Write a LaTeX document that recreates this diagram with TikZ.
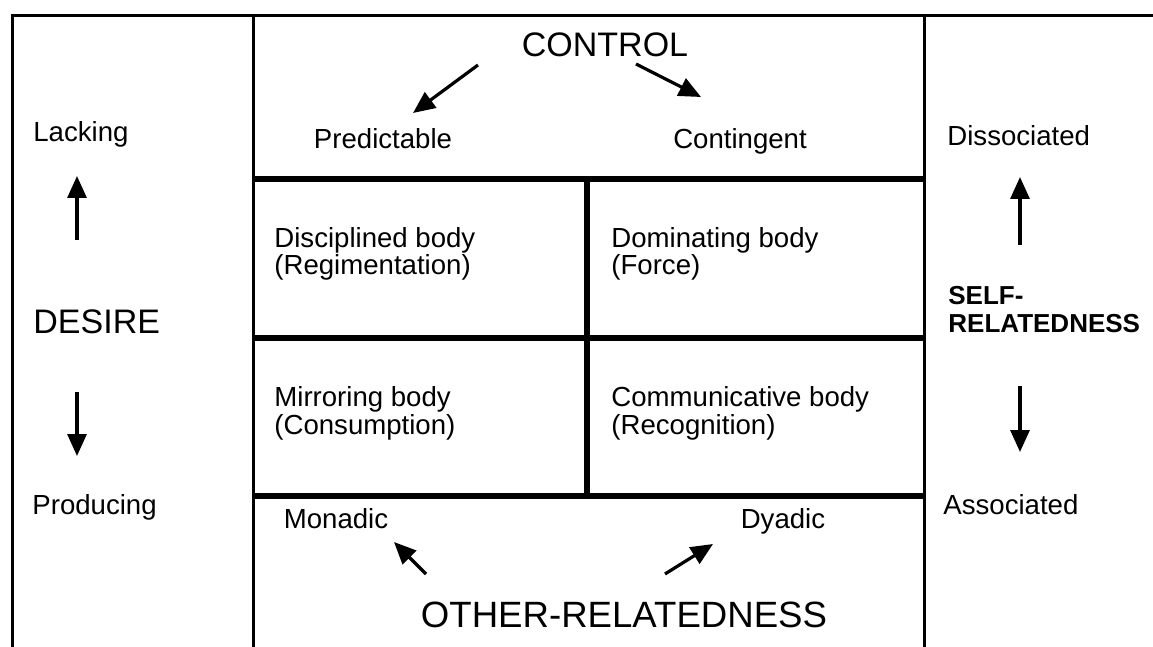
\documentclass[tikz,border=0pt]{standalone}
\usepackage{fontspec}
\setmainfont{Liberation Sans}
\usetikzlibrary{arrows.meta}

\begin{document}
\begin{tikzpicture}[x=0.5pt,y=-0.5pt,
  frame/.style={line width=1.5pt},
  gridline/.style={line width=2.6pt},
  lbl/.style={font=\fontsize{13.8}{13.5}\selectfont, inner sep=0pt, anchor=base},
  big/.style={font=\fontsize{17}{20}\selectfont, inner sep=0pt, anchor=base},
  side/.style={font=\bfseries\fontsize{13}{14}\selectfont, inner sep=0pt, align=left, anchor=base west},
  cell/.style={lbl, align=left, anchor=base west},
  arr/.style={line width=1.6pt, -{Triangle[length=11pt,width=9.5pt]}}]
\useasboundingbox (0,0) rectangle (1153,647);

% outer frame and column dividers
\draw[frame] (12,647) -- (12,16) -- (1153,16);
\draw[frame] (253,16) -- (253,647);
\draw[frame] (924,16) -- (924,647);

% central two-by-two grid
\draw[gridline] (253,179) -- (924,179);
\draw[gridline] (253,338) -- (924,338);
\draw[gridline] (253,496) -- (924,496);
\draw[gridline] (587,179) -- (587,496);

% top band: control
\node[big] (control) at (605,57) {CONTROL};
\node[lbl] (pred) at (383,149) {Predictable};
\node[lbl] (cont) at (740,149) {Contingent};
\coordinate (c1s) at (478,65);
\coordinate (c1e) at (413,113);
\coordinate (c2s) at (636,64);
\coordinate (c2e) at (701,97);
\draw[arr] (c1s) -- (c1e);
\draw[arr] (c2s) -- (c2e);

% cells (anchored on the baseline of their second line)
\node[cell] (disc) at (274,275) {Disciplined body\\(Regimentation)};
\node[cell] (dom) at (611,275) {Dominating body\\(Force)};
\node[cell] (mirr) at (274,434) {Mirroring body\\(Consumption)};
\node[cell] (comm) at (611,434) {Communicative body\\(Recognition)};

% bottom band: other-relatedness
\node[lbl] (mon) at (336,528) {Monadic};
\node[lbl] (dya) at (783,528) {Dyadic};
\node[big, font=\fontsize{18.3}{20}\selectfont] (other) at (624,627) {OTHER-RELATEDNESS};
\coordinate (o1s) at (426,574);
\coordinate (o1e) at (394,542);
\coordinate (o2s) at (665,574);
\coordinate (o2e) at (713,544);
\draw[arr] (o1s) -- (o1e);
\draw[arr] (o2s) -- (o2e);

% left column: desire
\node[lbl, anchor=base west] (lack) at (33,142) {Lacking};
\node[big, anchor=base west] (desire) at (33,334) {DESIRE};
\node[lbl, anchor=base west] (prod) at (32,514) {Producing};
\coordinate (d1s) at (77,240);
\coordinate (d1e) at (77,176);
\coordinate (d2s) at (77,392);
\coordinate (d2e) at (77,456);
\draw[arr] (d1s) -- (d1e);
\draw[arr] (d2s) -- (d2e);

% right column: self-relatedness
\node[lbl, anchor=base west] (diss) at (947,146) {Dissociated};
\node[side] (self) at (948,333) {SELF-\\RELATEDNESS};
\node[lbl, anchor=base west] (assoc) at (943,514) {Associated};
\coordinate (s1s) at (1020,245);
\coordinate (s1e) at (1020,177);
\coordinate (s2s) at (1020,386);
\coordinate (s2e) at (1020,452);
\draw[arr] (s1s) -- (s1e);
\draw[arr] (s2s) -- (s2e);
\end{tikzpicture}
\end{document}
